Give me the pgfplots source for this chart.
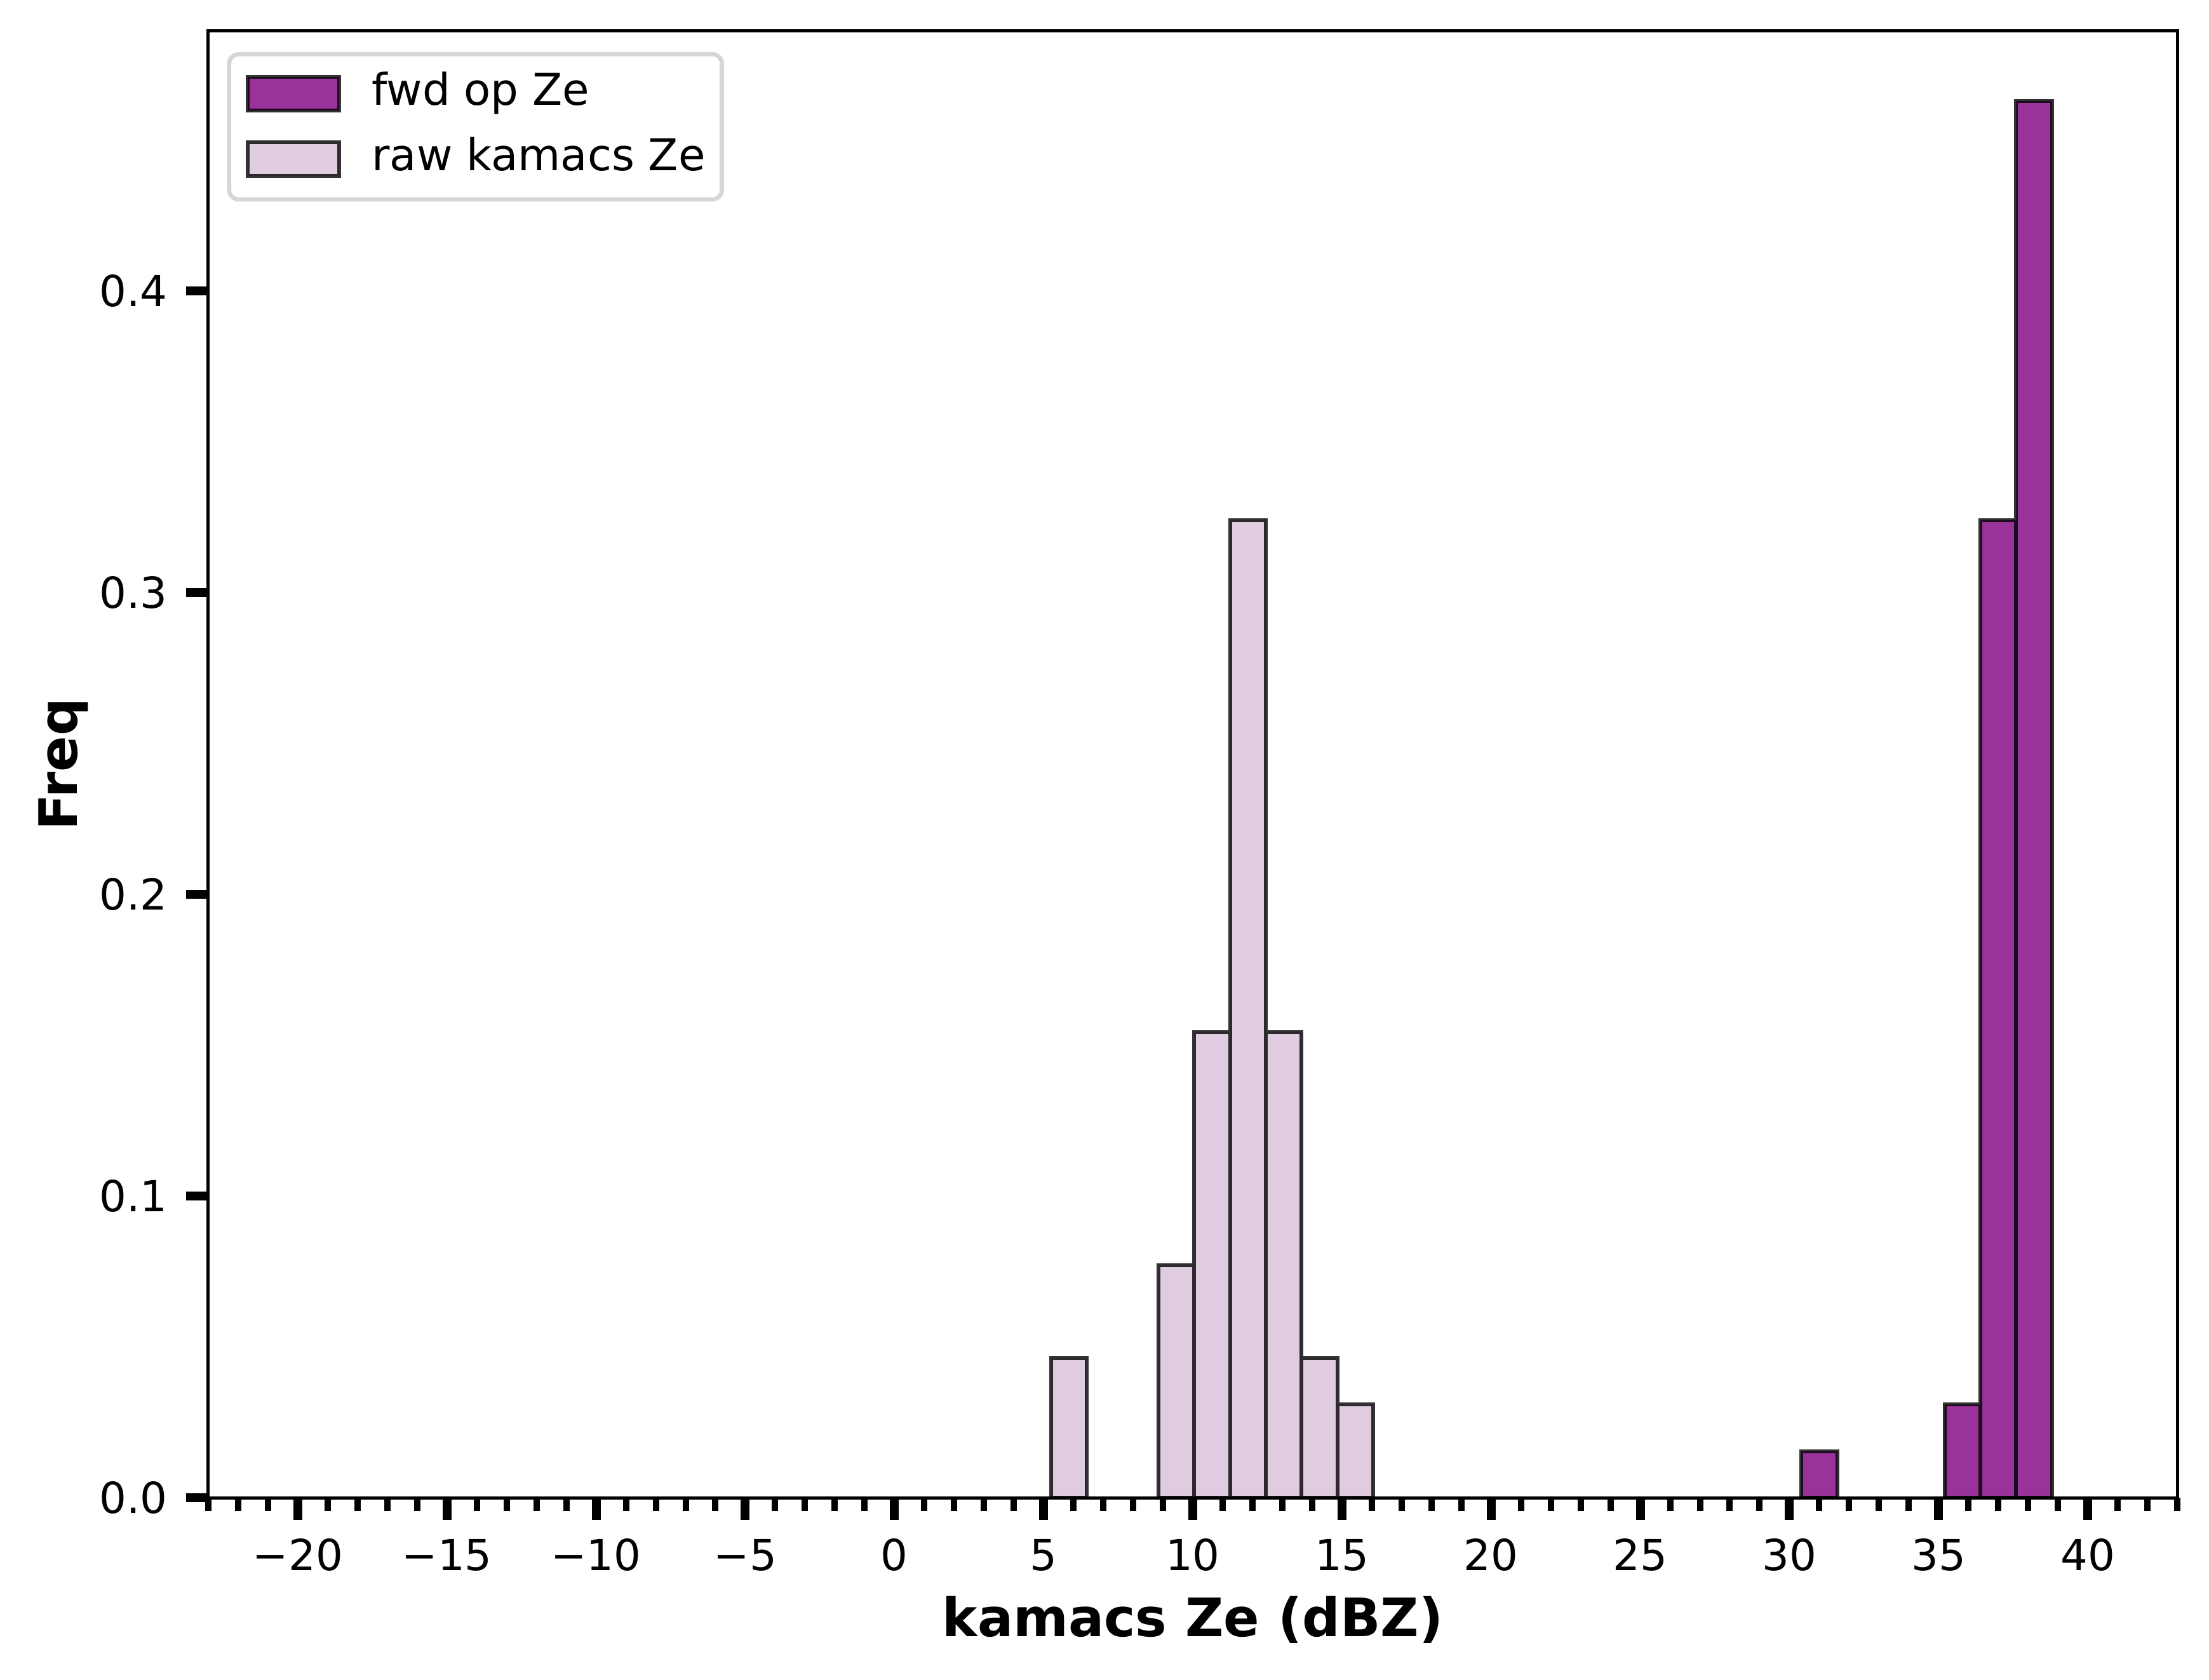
\documentclass[border=0pt]{standalone}
\usepackage{fontspec}
\setmainfont{DejaVu Sans}
\usepackage{pgfplots}
\pgfplotsset{compat=1.18}
\definecolor{fwdc}{HTML}{993399}
\definecolor{rawc}{HTML}{E0CCE0}
\definecolor{legedge}{HTML}{D6D6D6}
\begin{document}
\begin{tikzpicture}
\path[use as bounding box] (-49.2pt,-42.9pt) rectangle (472.5pt,353.7pt);
\begin{axis}[
  at={(0pt,0pt)}, anchor=south west,
  scale only axis, width=465pt, height=346.35pt,
  xmin=-23, xmax=43, ymin=0, ymax=0.4861,
  axis on top,
  axis line style={line width=0.75pt, black},
  xtick={-20,-15,...,40},
  xticklabels={−20,−15,−10,−5,0,5,10,15,20,25,30,35,40},
  minor xtick={-23,-22,...,43},
  ytick={0,0.1,0.2,0.3,0.4},
  yticklabels={0.0,0.1,0.2,0.3,0.4},
  tick align=outside, tick pos=left,
  major tick length=5.25pt, minor tick length=3.15pt,
  every major tick/.append style={line width=2.1pt, black},
  every minor tick/.append style={line width=1.5pt, black},
  ticklabel style={font=\fontsize{10.1}{12}\selectfont, inner sep=0pt},
  xticklabel style={anchor=base, yshift=-11.9pt},
  yticklabel style={anchor=east, xshift=-4.2pt},
  xlabel={kamacs Ze (dBZ)},
  ylabel={Freq},
  xlabel style={font=\fontsize{12.5}{15}\selectfont\bfseries, at={(axis description cs:0.5,-0.09484)}, anchor=base, inner sep=0pt},
  ylabel style={font=\fontsize{12.5}{15}\selectfont\bfseries, at={(axis description cs:-0.06645,0.5)}, anchor=base, inner sep=0pt},
  legend cell align=left,
  legend image code/.code={\draw[#1, sharp corners, line width=0.9pt] (0pt,-3.9pt) rectangle (21.6pt,4.1pt);},
  legend style={at={(axis description cs:0.0095,0.9857)}, anchor=north west,
    draw=legedge, line width=1pt, rounded corners=2.25pt, fill=white,
    inner xsep=3.9pt, inner ysep=4.5pt, row sep=5.5pt, column sep=7.3pt,
    font=\fontsize{10.35}{12}\selectfont,
    nodes={inner sep=0pt, text height=7.6pt, text depth=2.3pt}},
]
\addplot[ybar interval, fill=fwdc, draw=black, draw opacity=0.8, line width=0.9pt]
  coordinates {(35.2,0.03086) (36.4,0.32407) (37.6,0.46296) (38.8,0)};
\addlegendentry{fwd op Ze}
\addplot[ybar interval, fill=fwdc, draw=black, draw opacity=0.8, line width=0.9pt, forget plot]
  coordinates {(30.4,0.01543) (31.6,0)};
\addplot[ybar interval, fill=rawc, draw=black, draw opacity=0.8, line width=0.9pt]
  coordinates {(8.85,0.07716) (10.05,0.15432) (11.25,0.32407) (12.45,0.15432) (13.65,0.04630) (14.85,0.03086) (16.05,0)};
\addlegendentry{raw kamacs Ze}
\addplot[ybar interval, fill=rawc, draw=black, draw opacity=0.8, line width=0.9pt, forget plot]
  coordinates {(5.25,0.04630) (6.45,0)};
\end{axis}
\end{tikzpicture}
\end{document}
